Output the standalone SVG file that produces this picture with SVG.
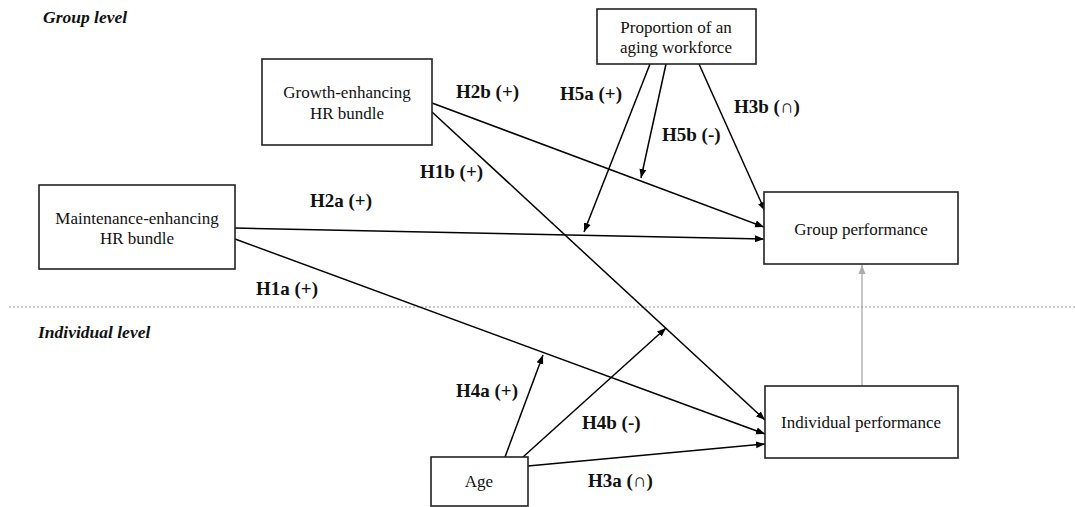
<svg xmlns="http://www.w3.org/2000/svg" width="1075" height="507" viewBox="0 0 1075 507">
<defs>
<marker id="ah" markerUnits="userSpaceOnUse" markerWidth="10" markerHeight="8" refX="9" refY="4" orient="auto"><path d="M0,0.5 L9,4 L0,7.5 Z" fill="#000"/></marker>
<marker id="ahg" markerUnits="userSpaceOnUse" markerWidth="10" markerHeight="8" refX="9" refY="4" orient="auto"><path d="M0,0.5 L9,4 L0,7.5 Z" fill="#aaa"/></marker>
<style>
.box{fill:#fff;stroke:#222;stroke-width:1.6}
.nt{font-family:"Liberation Serif",serif;font-size:17px;fill:#111;text-anchor:middle}
.lb{font-family:"Liberation Serif",serif;font-size:19px;font-weight:bold;fill:#111}
.lvl{font-family:"Liberation Serif",serif;font-size:17.5px;font-weight:bold;font-style:italic;fill:#111}
.c{stroke:#000;stroke-width:1.5;fill:none;marker-end:url(#ah)}
</style>
</defs>
<rect width="1075" height="507" fill="#fff"/>
<line x1="9" y1="307" x2="1075" y2="307" stroke="#999" stroke-width="1" stroke-dasharray="2,2"/>
<text class="lvl" x="43" y="23">Group level</text>
<text class="lvl" x="38" y="338">Individual level</text>
<g id="connectors">
<line class="c" x1="432" y1="103" x2="764" y2="227"/>
<line class="c" x1="432" y1="112" x2="765" y2="420"/>
<line class="c" x1="235" y1="228" x2="764" y2="239"/>
<line class="c" x1="235" y1="239" x2="765" y2="434"/>
<line class="c" x1="528" y1="466" x2="765" y2="444"/>
<line class="c" x1="505" y1="457" x2="543" y2="355"/>
<line class="c" x1="523" y1="457" x2="666" y2="328"/>
<line class="c" x1="650" y1="64" x2="584" y2="232"/>
<line class="c" x1="666" y1="64" x2="641" y2="178"/>
<line class="c" x1="699" y1="64" x2="765" y2="211"/>
<line x1="862" y1="386" x2="862" y2="265" stroke="#aaa" stroke-width="1.3" marker-end="url(#ahg)"/>
</g>
<g id="labels">
<text class="lb" x="456" y="98">H2b (+)</text>
<text class="lb" x="560" y="100">H5a (+)</text>
<text class="lb" x="662" y="141">H5b (-)</text>
<text class="lb" x="734" y="113">H3b (∩)</text>
<text class="lb" x="420" y="178">H1b (+)</text>
<text class="lb" x="310" y="207">H2a (+)</text>
<text class="lb" x="256" y="295">H1a (+)</text>
<text class="lb" x="456" y="397">H4a (+)</text>
<text class="lb" x="582" y="429">H4b (-)</text>
<text class="lb" x="588" y="487">H3a (∩)</text>
</g>
<g id="growth"><rect class="box" x="262" y="59" width="170" height="86"/><text class="nt" x="347" y="98">Growth-enhancing</text><text class="nt" x="347" y="119">HR bundle</text></g>
<g id="maintenance"><rect class="box" x="39" y="185" width="196" height="84"/><text class="nt" x="137" y="224">Maintenance-enhancing</text><text class="nt" x="137" y="244">HR bundle</text></g>
<g id="proportion"><rect class="box" x="597" y="9" width="159" height="55"/><text class="nt" x="676" y="33">Proportion of an</text><text class="nt" x="676" y="53">aging workforce</text></g>
<g id="groupperf"><rect class="box" x="764" y="192" width="194" height="72"/><text class="nt" x="861" y="235">Group performance</text></g>
<g id="indperf"><rect class="box" x="765" y="386" width="193" height="72"/><text class="nt" x="861" y="428">Individual performance</text></g>
<g id="age"><rect class="box" x="431" y="457" width="97" height="49"/><text class="nt" x="479" y="487">Age</text></g>
</svg>
